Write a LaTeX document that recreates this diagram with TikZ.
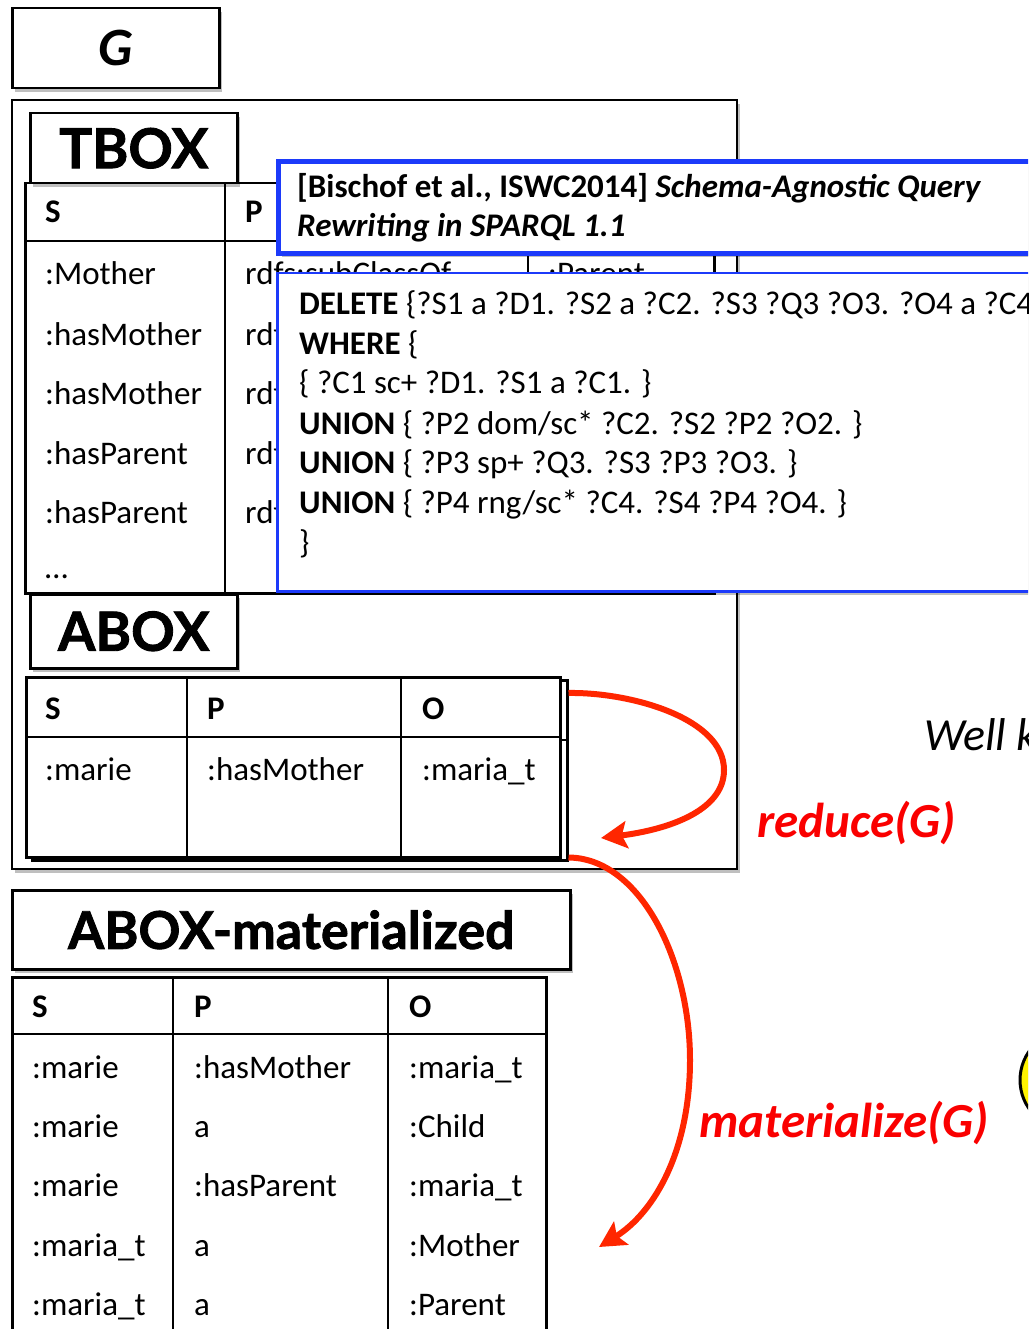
\documentclass[tikz,border=0pt]{standalone}
\usepackage{fontspec}
\setmainfont{Carlito}
\newfontfamily\titlefont[BoldFeatures={FakeBold=1.6}]{Lato}
\usetikzlibrary{shadows,arrows.meta}
\definecolor{qblue}{RGB}{28,58,250}
\definecolor{arrred}{RGB}{255,38,0}
\definecolor{lblred}{RGB}{250,0,0}
\newcommand\fsz[1]{\fontsize{#1}{#1}\selectfont}
\begin{document}
\begin{tikzpicture}[x=1pt,y=-1pt,
  shd/.style={drop shadow={shadow xshift=3pt,shadow yshift=-4pt,opacity=0.25,fill=black}},
  lbox/.style={draw=black,line width=2.5pt,fill=white,shd,inner sep=0pt,anchor=north west,font=\titlefont\bfseries},
  tbl/.style={draw=black,line width=2.5pt,fill=white,inner sep=0pt,anchor=north west},
  tline/.style={line width=2.5pt},
  cell/.style={anchor=base west,inner sep=0pt,font=\fsz{33}},
  hcell/.style={anchor=base west,inner sep=0pt,font=\fsz{33}\bfseries},
  redarrow/.style={draw=arrred,line width=6pt,-{Stealth[length=26pt,width=27pt,inset=5pt]}},
  redlabel/.style={anchor=base west,inner sep=0pt,text=lblred,font=\fsz{49}\bfseries\itshape}]
\useasboundingbox (0,0) rectangle (1028,1329);
\clip (0,0) rectangle (1028,1329);

% G container
\node[draw=black,line width=2pt,fill=white,shd,inner sep=0pt,anchor=north west,minimum width=725pt,minimum height=769pt] (gc) at (11,99) {};
% G box
\node[draw=black,line width=2.5pt,fill=white,shd,inner sep=0pt,anchor=north west,minimum width=207pt,minimum height=80pt,font=\fsz{54}\bfseries\itshape] (gbox) at (11,7) {G};

% TBOX table
\node[tbl,minimum width=689pt,minimum height=410pt] (tt) at (24,182) {};
\draw[tline] (24,241) -- (713,241);
\draw[tline] (225,182) -- (225,592);
\draw[tline] (528,182) -- (528,592);
\node[hcell] (th1) at (45,223) {S};
\node[hcell] (th2) at (245,223) {P};
\node[cell] (ts1) at (45,285) {:Mother};
\node[cell] (ts2) at (45,345) {:hasMother};
\node[cell] (ts3) at (45,404) {:hasMother};
\node[cell] (ts4) at (45,464) {:hasParent};
\node[cell] (ts5) at (45,523) {:hasParent};
\node[cell] (ts6) at (45,578) {…};
\node[cell] (tp1) at (245,285) {rdfs:subClassOf};
\node[cell] (to1) at (548,285) {:Parent};
\node[cell] (tp2) at (245,345) {rdfs:};
\node[cell] (tp3) at (245,404) {rdfs:};
\node[cell] (tp4) at (245,464) {rdfs:};
\node[cell] (tp5) at (245,523) {rdfs:};
% TBOX label
\node[lbox,minimum width=207pt,minimum height=70pt,font=\titlefont\bfseries\fsz{55}] (tbox) at (29,112) {TBOX};

% blue title box
\node[draw=qblue,line width=5pt,fill=white,shd,inner sep=0pt,anchor=north west,minimum width=780pt,minimum height=92pt] (ref) at (276,159) {};
\node[anchor=base west,inner sep=0pt,font=\fsz{33}\bfseries] (ref1) at (297,198) {[Bischof et al., ISWC2014] \itshape Schema-Agnostic Query};
\node[anchor=base west,inner sep=0pt,font=\fsz{33}\bfseries\itshape] (ref2) at (297,237) {Rewriting in SPARQL 1.1};

% query box
\node[draw=qblue,line width=2.5pt,fill=white,shd,inner sep=0pt,anchor=north west,minimum width=780pt,minimum height=318pt] (qbox) at (276,272) {};
\node[cell] (q1) at (299,315) {\textbf{DELETE} \{?S1 a ?D1. ?S2 a ?C2. ?S3 ?Q3 ?O3. ?O4 a ?C4};
\node[cell] (q2) at (299,354) {\textbf{WHERE} \{};
\node[cell] (q3) at (299,393) {\{ ?C1 sc+ ?D1. ?S1 a ?C1. \}};
\node[cell] (q4) at (299,434) {\textbf{UNION} \{ ?P2 dom/sc* ?C2. ?S2 ?P2 ?O2. \}};
\node[cell] (q5) at (299,473) {\textbf{UNION} \{ ?P3 sp+ ?Q3. ?S3 ?P3 ?O3. \}};
\node[cell] (q6) at (299,513) {\textbf{UNION} \{ ?P4 rng/sc* ?C4. ?S4 ?P4 ?O4. \}};
\node[cell] (q7) at (299,553) {\}};

% ABOX label
\node[lbox,minimum width=207pt,minimum height=74pt,font=\titlefont\bfseries\fsz{54}] (abox) at (29,593) {ABOX};

% ABOX table (back copy)
\node[tbl,minimum width=535pt,minimum height=180pt] (ab2) at (31,679) {};
\draw[tline] (31,740) -- (566,740);
\draw[tline] (193,679) -- (193,859);
\draw[tline] (408,679) -- (408,859);
% ABOX table (front)
\node[tbl,minimum width=534pt,minimum height=180pt] (ab) at (25,676) {};
\draw[tline] (25,737) -- (559,737);
\draw[tline] (187,676) -- (187,856);
\draw[tline] (401,676) -- (401,856);
\node[hcell] (ah1) at (45,719) {S};
\node[hcell] (ah2) at (207,719) {P};
\node[hcell] (ah3) at (422,719) {O};
\node[cell] (ar1) at (45,780) {:marie};
\node[cell] (ar2) at (207,780) {:hasMother};
\node[cell] (ar3) at (422,780) {:maria\_t};

% materialized label
\node[lbox,minimum width=558pt,minimum height=79pt,font=\titlefont\bfseries\fsz{52}] (mat) at (11,889) {ABOX-materialized};
% materialized table
\node[tbl,minimum width=534pt,minimum height=380pt] (mt) at (11,976) {};
\draw[tline] (11,1034) -- (545,1034);
\draw[tline] (173,976) -- (173,1356);
\draw[tline] (388,976) -- (388,1356);
\node[hcell] (mh1) at (32,1017) {S};
\node[hcell] (mh2) at (194,1017) {P};
\node[hcell] (mh3) at (409,1017) {O};
\node[cell] (m11) at (32,1078) {:marie};
\node[cell] (m12) at (194,1078) {:hasMother};
\node[cell] (m13) at (409,1078) {:maria\_t};
\node[cell] (m21) at (32,1137) {:marie};
\node[cell] (m22) at (194,1137) {a};
\node[cell] (m23) at (409,1137) {:Child};
\node[cell] (m31) at (32,1196) {:marie};
\node[cell] (m32) at (194,1196) {:hasParent};
\node[cell] (m33) at (409,1196) {:maria\_t};
\node[cell] (m41) at (32,1256) {:maria\_t};
\node[cell] (m42) at (194,1256) {a};
\node[cell] (m43) at (409,1256) {:Mother};
\node[cell] (m51) at (32,1315) {:maria\_t};
\node[cell] (m52) at (194,1315) {a};
\node[cell] (m53) at (409,1315) {:Parent};

% arrows
\coordinate (redtip) at (601,838);
\coordinate (mattip) at (599,1247);
\draw[redarrow] ([yshift=-14pt]ab2.north east) .. controls (630,692) and (724,718) .. (724,770)
  .. controls (724,812) and (665,830) .. (redtip);
\draw[redarrow] ([yshift=4pt]ab2.south east) .. controls (640,858) and (690,960) .. (690,1060)
  .. controls (690,1150) and (655,1212) .. (mattip);
\node[redlabel] (lred) at (757,837) {reduce(G)};
\node[redlabel] (lmat) at (699,1137) {materialize(G)};

% right side
\node[anchor=base west,inner sep=0pt,font=\fsz{46}\itshape] (well) at (924,750) {Well k};
\node[circle,draw=black,line width=3pt,fill=yellow,shd,minimum size=100pt,inner sep=0pt] (bulb) at (1070,1080) {};
\end{tikzpicture}
\end{document}
